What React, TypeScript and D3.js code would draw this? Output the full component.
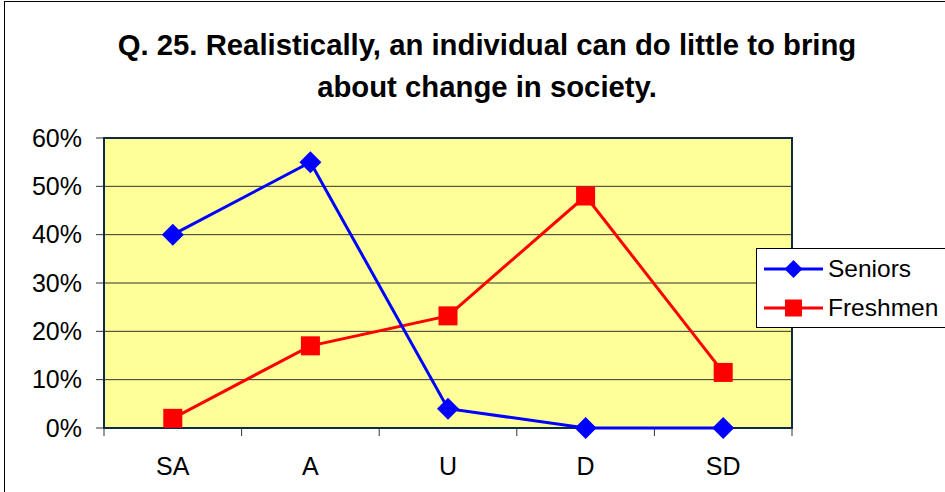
import React from "react";
import * as d3 from "d3";

const categories = ["SA", "A", "U", "D", "SD"];
const seniors = [40, 55, 4, 0, 0];
const freshmen = [2, 17, 23.2, 48, 11.5];
const yTicks = [0, 10, 20, 30, 40, 50, 60];
const titleLines = [
  "Q. 25. Realistically, an individual can do little to bring",
  "about change in society.",
];

const W = 945, H = 492;
const plot = { x0: 104, x1: 792, y0: 138, y1: 428 };

export default function App() {
  const x = d3.scaleBand<string>().domain(categories).range([plot.x0, plot.x1]);
  const xc = (c: string) => (x(c) as number) + x.bandwidth() / 2;
  const y = d3.scaleLinear().domain([0, 60]).range([plot.y1, plot.y0]);
  const line = d3.line<number>().x((_, i) => xc(categories[i])).y((v) => y(v));
  const font = "'Liberation Sans', Arial, sans-serif";
  const diamond = (cx: number, cy: number, r: number) =>
    `M${cx},${cy - r}L${cx + r},${cy}L${cx},${cy + r}L${cx - r},${cy}Z`;
  const boundaries = [...categories.map((c) => x(c) as number), plot.x1];

  return (
    <div style={{ position: "absolute", left: 0, top: 0 }}>
      <svg width={W} height={H} style={{ display: "block" }}>
        <rect x={0} y={0} width={W} height={H} fill="#fff" />
        <rect x={4.5} y={1.5} width={W + 10} height={H + 10} fill="none" stroke="#000" strokeWidth={1} />
        {titleLines.map((t, i) => (
          <text key={i} x={487} y={55 + i * 42} textAnchor="middle" fontFamily={font} fontWeight="bold" fontSize={29.3} fill="#000">
            {t}
          </text>
        ))}
        <rect x={plot.x0} y={plot.y0} width={plot.x1 - plot.x0} height={plot.y1 - plot.y0} fill="#FFFF99" />
        {yTicks.map((t) => (
          <g key={t}>
            {t > 0 && t < 60 && (
              <line x1={plot.x0} x2={plot.x1} y1={y(t)} y2={y(t)} stroke="#333" strokeWidth={1} />
            )}
            <line x1={plot.x0 - 8} x2={plot.x0} y1={y(t)} y2={y(t)} stroke="#333" strokeWidth={1} />
            <text x={82} y={y(t) + 8.5} textAnchor="end" fontFamily={font} fontSize={25} fill="#000">
              {t}%
            </text>
          </g>
        ))}
        <rect x={plot.x0} y={plot.y0} width={plot.x1 - plot.x0} height={plot.y1 - plot.y0} fill="none" stroke="#0f2a45" strokeWidth={2} />
        {boundaries.map((b, i) => (
          <line key={i} x1={b} x2={b} y1={plot.y1} y2={plot.y1 + 8} stroke="#333" strokeWidth={1} />
        ))}
        {categories.map((c) => (
          <text key={c} x={xc(c)} y={475} textAnchor="middle" fontFamily={font} fontSize={25} fill="#000">
            {c}
          </text>
        ))}
        <path d={line(freshmen) as string} fill="none" stroke="#FF0000" strokeWidth={3} />
        <path d={line(seniors) as string} fill="none" stroke="#0000FF" strokeWidth={3} />
        {freshmen.map((v, i) => (
          <rect key={i} x={xc(categories[i]) - 9.5} y={y(v) - 9.5} width={19} height={19} fill="#FF0000" />
        ))}
        {seniors.map((v, i) => (
          <path key={i} d={diamond(xc(categories[i]), y(v), 11)} fill="#0000FF" />
        ))}
        <rect x={756.5} y={248.5} width={200} height={79} fill="#fff" stroke="#000" strokeWidth={1} />
        <line x1={764} x2={823} y1={269} y2={269} stroke="#0000FF" strokeWidth={3} />
        <path d={diamond(793.5, 269, 9)} fill="#0000FF" />
        <text x={828} y={277} fontFamily={font} fontSize={24.5} fill="#000">Seniors</text>
        <line x1={764} x2={823} y1={308} y2={308} stroke="#FF0000" strokeWidth={3} />
        <rect x={785} y={299.5} width={17} height={17} fill="#FF0000" />
        <text x={828} y={316} fontFamily={font} fontSize={24.5} fill="#000">Freshmen</text>
      </svg>
    </div>
  );
}
